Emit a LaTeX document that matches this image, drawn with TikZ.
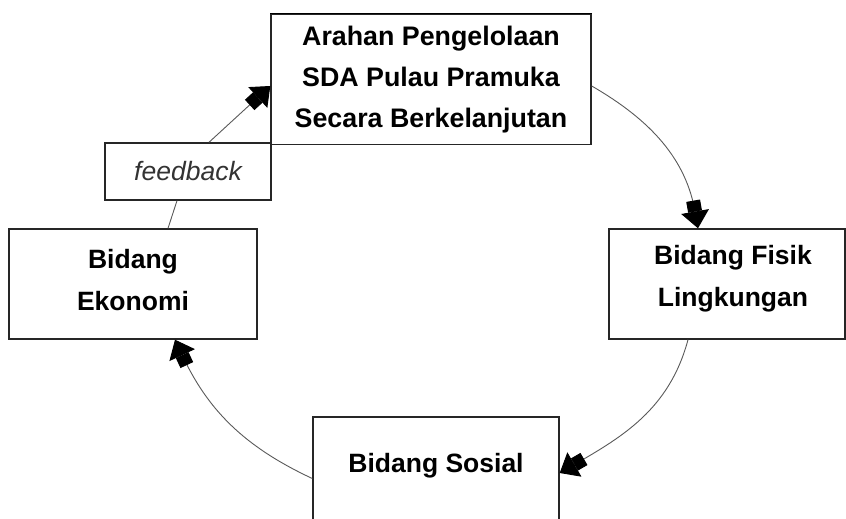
\documentclass[tikz,border=0pt]{standalone}
\usepackage{fontspec}
\setmainfont{Liberation Sans}
\usetikzlibrary{arrows.meta,calc}
\begin{document}
\begin{tikzpicture}[x=1pt,y=1pt,
  box/.style={draw=black!85,line width=1.4pt,fill=white,inner sep=0pt,align=center,
    font=\fontsize{26.8}{41}\selectfont\bfseries},
  fbbox/.style={draw=black!85,line width=1.4pt,fill=white,inner sep=0pt,align=center,
    font=\fontsize{26.5}{30}\selectfont\itshape,text=black!80},
  lbl/.style={inner sep=0pt,align=center,font=\fontsize{26.5}{42}\selectfont\bfseries},
  conn/.style={draw=black!65,line width=0.9pt},
  bigarrow/.style={-{Rectangle[length=11pt,width=14pt,sep=0pt,color=black,fill=black]Triangle[length=17pt,width=28pt,sep=0pt,color=black,fill=black]}},
]
\useasboundingbox (0,0) rectangle (846,519);
% boxes
\node[box,minimum width=236pt,minimum height=110pt] (fis) at (727,235) {};
\node[lbl] (fist) at (733,240) {Bidang Fisik\\Lingkungan};
\node[box,minimum width=248pt,minimum height=110pt] (eko) at (133,235) {};
\node[lbl] (ekot) at (133,239) {Bidang\\Ekonomi};
\node[box,minimum width=246pt,minimum height=123pt] (sos) at (436,40.5) {};
\node[lbl] (sost) at (436,53) {Bidang Sosial};
\node[fbbox,minimum width=166pt,minimum height=57pt] (fb) at (188,347.5) {feedback};
\node[box,minimum width=320pt,minimum height=130pt] (top) at (431,439.5)
  {Arahan Pengelolaan\\SDA Pulau Pramuka\\Secara Berkelanjutan};
\draw[black,line width=1pt] (top.north west) -- (top.north east);
% connectors
\draw[conn,bigarrow] ([yshift=-6.5pt]top.east) to[out=-30,in=100] ([xshift=-29pt]fis.north);
\draw[conn,bigarrow] ([xshift=-39pt]fis.south) to[out=-105,in=30] ([yshift=5.5pt]sos.east);
\draw[conn,bigarrow] (sos.west) to[out=155,in=-65] ([xshift=42pt]eko.south);
\draw[conn] ([xshift=35pt]eko.north) -- ([xshift=-11pt]fb.south);
\draw[conn,bigarrow] ([xshift=21pt]fb.north) -- ([yshift=-6.5pt]top.west);
\end{tikzpicture}
\end{document}
